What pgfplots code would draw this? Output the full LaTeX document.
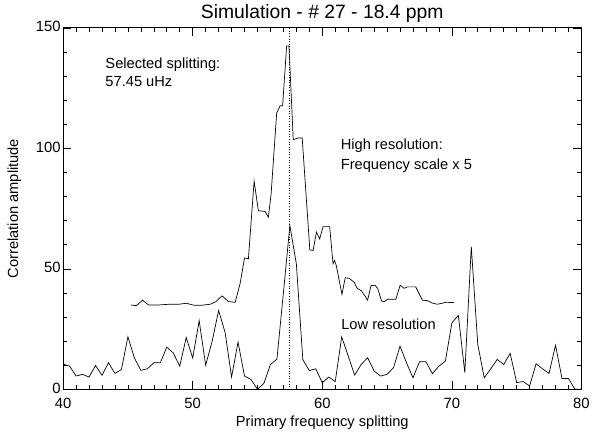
\documentclass[border=0pt]{standalone}
\usepackage{fontspec}
\setmainfont{Liberation Sans}
\usepackage{pgfplots}
\pgfplotsset{compat=1.18}
\begin{document}
\begin{tikzpicture}
\begin{axis}[
  at={(0,0)}, anchor=south west,
  scale only axis, width=521.5bp, height=363.7bp,
  xmin=40, xmax=80, ymin=0, ymax=150,
  xtick={40,50,...,80}, ytick={0,50,100,150},
  minor x tick num=9, minor y tick num=4,
  tick align=inside, xtick pos=both, ytick pos=both,
  xticklabel pos=left, yticklabel pos=left,
  major tick length=8bp, minor tick length=4bp,
  every tick/.style={black, line width=0.6pt},
  axis line style={black, line width=0.8pt},
  /pgf/number format/assume math mode=true,
  ticklabel style={font=\fontsize{15}{17}\selectfont},
  xticklabel style={yshift=-5bp},
  yticklabel style={xshift=1bp, yshift=1bp},
  title={Simulation - \# 27 - 18.4 ppm},
  title style={font=\fontsize{19.5}{22}\selectfont, yshift=-4bp},
  xlabel={Primary frequency splitting},
  ylabel={Correlation amplitude},
  label style={font=\fontsize{14.8}{17}\selectfont},
  xlabel style={yshift=-1bp},
  ylabel style={yshift=8bp},
  clip=false,
]
\addplot[black, line width=0.7pt] coordinates {
(40.0,10.5) (40.5,9.6) (41.0,5.5) (41.5,6.2) (42.0,5.1) (42.5,9.9) (43.0,5.8) (43.5,11.0)
(44.0,6.6) (44.5,8.2) (45.0,21.8) (45.5,13.0) (46.0,7.9) (46.5,8.5) (47.0,11.0) (47.5,11.0)
(48.0,17.5) (48.5,15.1) (49.0,9.6) (49.5,21.5) (50.0,13.0) (50.5,28.5) (51.0,10.0) (51.5,19.9)
(52.0,32.7) (52.5,23.6) (53.0,5.1) (53.5,19.6) (54.0,5.5) (54.5,4.1) (55.0,0) (55.5,2.5)
(56.0,10.3) (56.5,12.5) (57.0,40) (57.5,68) (58.0,52) (58.5,12.3) (59.0,7.8) (59.5,8.5)
(60.0,2.7) (60.5,5.1) (61.0,3.2) (61.5,21.8) (62.0,13.8) (62.5,5.9) (63.0,10.3) (63.5,13.1)
(64.0,7.6) (64.5,5.5) (65.0,6.2) (65.5,9.0) (66.0,17.9) (66.5,11.0) (67.0,4.8) (67.5,11.4)
(68.0,11.4) (68.5,6.5) (69.0,9.6) (69.5,11.7) (70.0,27.5) (70.5,30.7) (71.0,6.9) (71.5,59.2)
(72.0,18.6) (72.5,4.8) (73.0,8.5) (73.5,12.4) (74.0,10.3) (74.5,14.9) (75.0,2.8) (75.5,3.2)
(76.0,1.4) (76.5,10.6) (77.0,8.5) (77.5,6.6) (78.0,18.3) (78.5,4.5) (79.0,4.5) (79.5,0) (80.0,0)
};
\addplot[black, line width=0.7pt] coordinates {
(45.23,35.0) (45.66,34.7) (46.13,37.0) (46.59,35.0) (47.4,35.0) (48.17,35.3) (48.93,35.3)
(49.5,35.7) (50.09,34.9) (50.73,34.9) (51.36,35.3) (51.8,36.4) (52.26,38.8) (52.77,36.4)
(53.28,36.1) (53.66,43.9) (54.0,54.5) (54.3,54.2) (54.74,86.4) (55.07,74.1) (55.59,73.8)
(55.84,71.4) (56.05,80.9) (56.48,114.6) (56.74,117.6) (56.94,117.7) (57.25,142.5) (57.43,142.5)
(57.76,103.6) (58.14,104.3) (58.45,104.3) (59.04,57.9) (59.29,57.6) (59.55,65.2) (59.8,62.4)
(60.06,67.5) (60.57,67.5) (60.83,52.1) (60.95,53.5) (61.08,51.4) (61.33,44.6) (61.52,39.4)
(61.77,46.3) (62.1,46.0) (62.48,44.3) (62.69,41.9) (62.99,41.0) (63.25,39.1) (63.5,37.0)
(63.76,43.0) (64.07,43.2) (64.27,41.9) (64.58,36.6) (64.79,36.4) (65.04,37.4) (65.68,37.4)
(66.01,43.2) (66.32,41.9) (66.57,42.5) (67.21,42.5) (67.72,37.0) (68.1,36.8) (68.49,35.8)
(68.87,35.3) (69.26,35.7) (69.51,36.1) (70.15,36.0)
};
\addplot[black, dotted, line width=0.6pt] coordinates {(57.45,0) (57.45,150)};
\node[anchor=base west, font=\fontsize{14.8}{17}\selectfont] at (axis cs:43.0,133.3) {Selected splitting:};
\node[anchor=base west, font=\fontsize{14.8}{17}\selectfont] at (axis cs:43.0,125.8) {57.45 uHz};
\node[anchor=base west, font=\fontsize{14.8}{17}\selectfont] at (axis cs:61.16,99.5) {High resolution:};
\node[anchor=base west, font=\fontsize{14.8}{17}\selectfont] at (axis cs:61.16,91.2) {Frequency scale x 5};
\node[anchor=base west, font=\fontsize{14.8}{17}\selectfont] at (axis cs:61.2,25) {Low resolution};
\end{axis}
\path (-63.5bp,-41.3bp) rectangle (529.5bp,391.7bp);
\end{tikzpicture}
\end{document}
